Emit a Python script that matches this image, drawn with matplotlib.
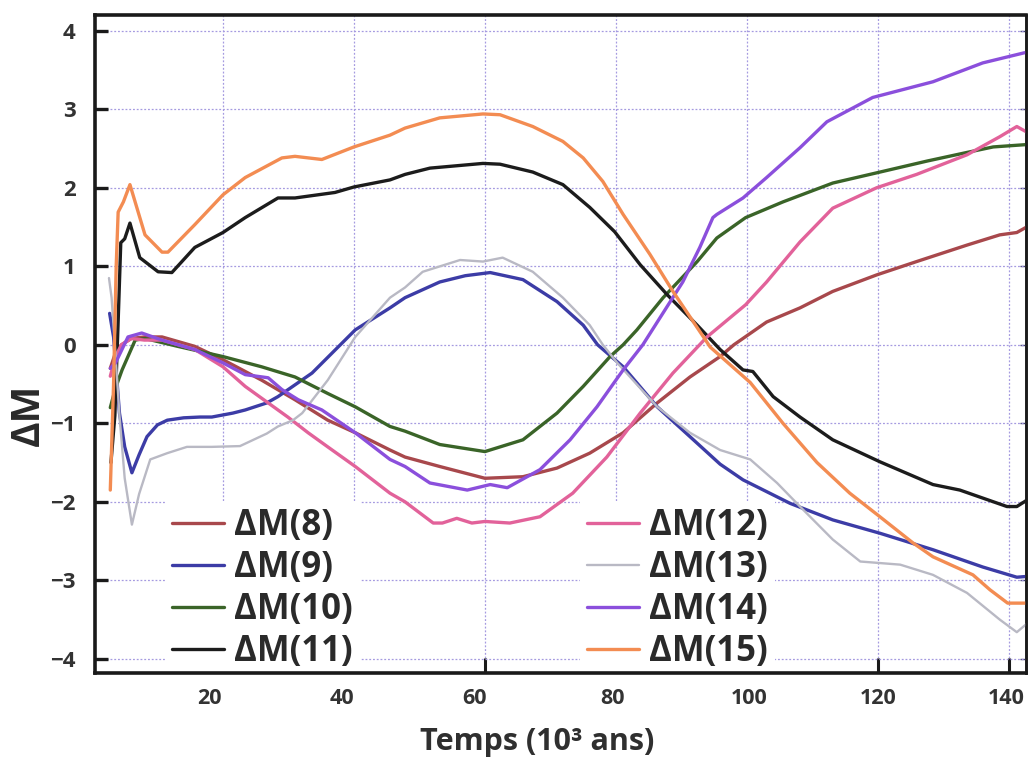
import matplotlib
matplotlib.use("Agg")
import matplotlib.pyplot as plt
import matplotlib.transforms as mtransforms

plt.rcParams['font.family'] = ['Open Sans', 'DejaVu Sans']

# ---- data (time in 10^3 years, delta M) ----
t_8 = [2.8, 3.6, 4.5, 6, 8, 10.7, 15.7, 20, 25.9, 31, 36, 40.2, 45.5, 47.8, 53.1, 60,
       65.8, 71, 76, 81.1, 86.3, 91.3, 95.9, 98, 103, 108.1, 113.1, 119.8, 125.9,
       133.6, 138.6, 141.2, 142.7]
dm_8 = [-0.3, -0.1, 0.0, 0.08, 0.1, 0.1, -0.02, -0.19, -0.45, -0.70, -0.96, -1.12, -1.34,
        -1.43, -1.55, -1.70, -1.68, -1.57, -1.38, -1.12, -0.74, -0.41, -0.15, 0.0, 0.29,
        0.47, 0.68, 0.89, 1.06, 1.27, 1.40, 1.43, 1.50]

t_9 = [2.7, 3.3, 4.2, 5.0, 6.1, 7.2, 8.4, 10, 11.5, 14, 16.5, 18.3, 21.5, 23.4, 26.7,
       28.4, 33.6, 36, 40.2, 45.5, 47.8, 53.1, 57, 60.8, 65.8, 71, 75, 77.2, 81.1, 86.3,
       91.3, 95.9, 99.4, 106.6, 113.1, 120.3, 128.4, 136, 141.2, 142.7]
dm_9 = [0.4, 0.1, -0.87, -1.3, -1.63, -1.4, -1.17, -1.02, -0.96, -0.93, -0.92, -0.92,
        -0.87, -0.83, -0.74, -0.66, -0.36, -0.16, 0.19, 0.47, 0.60, 0.80, 0.88, 0.92, 0.83,
        0.55, 0.25, 0.0, -0.28, -0.79, -1.17, -1.52, -1.72, -2.02, -2.23, -2.40, -2.61,
        -2.83, -2.96, -2.95]

t_10 = [2.8, 3.6, 4.6, 6.6, 8.1, 13.1, 20, 25.9, 31, 36, 40.2, 45.5, 47.8, 53.1, 60,
        65.8, 71, 75, 79.1, 81.1, 83.2, 87.2, 92.4, 95.4, 99.8, 105.5, 113.1, 119.8,
        127.5, 133.6, 137.6, 142.7]
dm_10 = [-0.8, -0.55, -0.32, 0.06, 0.08, -0.02, -0.15, -0.28, -0.41, -0.62, -0.79, -1.04,
         -1.10, -1.27, -1.36, -1.21, -0.87, -0.53, -0.15, 0.0, 0.19, 0.6, 1.06, 1.36, 1.62,
         1.82, 2.06, 2.19, 2.34, 2.45, 2.52, 2.55]

t_11 = [2.9, 3.5, 4.0, 4.4, 5.0, 5.8, 7.3, 10.1, 12.2, 15.7, 20, 23.4, 28.4, 31, 37.1,
        40, 45.5, 47.8, 51.6, 59.7, 62.3, 67.3, 71.9, 76, 79.8, 83.7, 87.8, 92.4, 95.9,
        99.4, 100.9, 104, 108.1, 113.1, 120.3, 128.4, 132.5, 139.7, 141.2, 142.9]
dm_11 = [-1.5, -0.9, 0.3, 1.3, 1.35, 1.55, 1.11, 0.93, 0.92, 1.24, 1.43, 1.62, 1.87, 1.87,
         1.94, 2.01, 2.10, 2.17, 2.25, 2.31, 2.30, 2.20, 2.04, 1.75, 1.44, 1.02, 0.64, 0.25,
         -0.06, -0.32, -0.34, -0.66, -0.92, -1.21, -1.49, -1.78, -1.85, -2.06, -2.06, -1.97]

t_12 = [2.8, 3.6, 4.5, 6, 8, 10.7, 15.7, 20, 23.4, 26.9, 29.9, 33, 36, 40.2, 45.5, 47.8,
        52.1, 53.5, 55.7, 58, 60, 63.8, 68.4, 73.4, 78.6, 83.7, 88.7, 93.9, 99.8, 103,
        108.1, 113.1, 119.8, 125.9, 133.6, 138.6, 141.2, 142.7]
dm_12 = [-0.4, -0.15, 0.0, 0.08, 0.06, 0.06, -0.06, -0.28, -0.53, -0.74, -0.92, -1.12,
         -1.30, -1.55, -1.89, -2.0, -2.27, -2.27, -2.21, -2.27, -2.25, -2.27, -2.19, -1.89,
         -1.43, -0.87, -0.36, 0.10, 0.51, 0.80, 1.31, 1.74, 2.0, 2.17, 2.42, 2.65, 2.78, 2.71]

t_13 = [2.6, 3.0, 3.5, 4.2, 5.0, 6.1, 7.2, 8.9, 11.5, 14.5, 18.3, 22.6, 26.7, 28.4, 30.7,
        32.1, 36, 40.2, 45.5, 47.8, 50.5, 56.2, 59.7, 62.7, 67.3, 71.9, 76, 78, 80.2, 86.3,
        91.3, 95.9, 100.5, 104.6, 108.1, 113.1, 117.3, 123.4, 128.4, 133.6, 138.6, 141.2,
        142.9]
dm_13 = [0.85, 0.6, 0.0, -0.9, -1.7, -2.29, -1.9, -1.46, -1.38, -1.30, -1.30, -1.29, -1.13,
         -1.04, -0.96, -0.87, -0.45, 0.10, 0.60, 0.73, 0.93, 1.08, 1.06, 1.11, 0.93, 0.60,
         0.25, 0.0, -0.23, -0.79, -1.12, -1.34, -1.46, -1.76, -2.06, -2.48, -2.76, -2.80,
         -2.93, -3.16, -3.50, -3.66, -3.54]

t_14 = [2.8, 3.6, 5.5, 7.6, 10.7, 15.7, 20, 23.4, 26.9, 29, 31.5, 35.1, 40.2, 45.5, 47.8,
        51.6, 57.3, 60.8, 63.4, 68.4, 73, 77.1, 81.1, 84.1, 90.2, 92.8, 94.8, 95.4, 99.4,
        103, 108.1, 112.2, 119.2, 128.4, 136, 142.4]
dm_14 = [-0.3, -0.23, 0.10, 0.15, 0.06, -0.06, -0.23, -0.38, -0.42, -0.57, -0.70, -0.83,
         -1.12, -1.46, -1.55, -1.76, -1.85, -1.78, -1.82, -1.59, -1.21, -0.79, -0.32, 0.0,
         0.80, 1.24, 1.62, 1.66, 1.87, 2.13, 2.51, 2.84, 3.15, 3.35, 3.59, 3.72]

t_15 = [2.8, 3.3, 3.7, 4.0, 4.8, 5.8, 8.1, 10.7, 11.6, 15.7, 20, 23.4, 29, 31, 35.1, 40,
        45.5, 47.8, 53.1, 59.7, 62.3, 67.3, 71.9, 75, 78, 81.1, 85.2, 88.7, 92.8, 94.4,
        100.5, 105.5, 110.7, 115.7, 120.3, 125.3, 128.4, 134.5, 137.1, 139.8, 142.9]
dm_15 = [-1.85, -0.5, 1.0, 1.69, 1.82, 2.04, 1.40, 1.18, 1.18, 1.53, 1.91, 2.13, 2.38, 2.40,
         2.36, 2.52, 2.67, 2.76, 2.89, 2.94, 2.93, 2.78, 2.59, 2.38, 2.08, 1.66, 1.15, 0.68,
         0.17, -0.03, -0.48, -1.0, -1.50, -1.89, -2.19, -2.52, -2.70, -2.93, -3.12, -3.29,
         -3.29]

labels = ['ΔM(8)', 'ΔM(9)', 'ΔM(10)', 'ΔM(11)', 'ΔM(12)', 'ΔM(13)', 'ΔM(14)', 'ΔM(15)']
x_ticks = [20, 40, 60, 80, 100, 120, 140]
y_ticks = [-4, -3, -2, -1, 0, 1, 2, 3, 4]

series = [(t_8, dm_8), (t_9, dm_9), (t_10, dm_10), (t_11, dm_11),
          (t_12, dm_12), (t_13, dm_13), (t_14, dm_14), (t_15, dm_15)]
colors = ['#a8484c', '#3c3ca6', '#3a6428', '#1c1c1c',
          '#e2629a', '#b9b9c4', '#8b4fdc', '#f38c52']
widths = [2.4, 2.4, 2.4, 2.4, 2.4, 1.7, 2.4, 2.4]

fig = plt.figure(figsize=(10.30, 7.66), dpi=100)
ax = fig.add_axes([0.0922, 0.1214, 0.9039, 0.8590])

lines = []
for (t, dm), c, lw, lab in zip(series, colors, widths, labels):
    ln, = ax.plot(t, dm, color=c, lw=lw, label=lab, solid_capstyle='round', zorder=2)
    lines.append(ln)

ax.set_xlim(0.46, 142.6)
ax.set_ylim(-4.18, 4.2)
ax.set_xticks(x_ticks)
ax.set_yticks(y_ticks)
ax.grid(True, color='#a59ae0', linestyle=(0, (1.5, 1.5)), linewidth=0.9)

ax.tick_params(axis='y', direction='in', length=9.5, width=2.4, color='#1a1a1a',
               pad=14, labelsize=16, labelcolor='#333333')
ax.tick_params(axis='x', direction='in', length=10.5, width=2.2, color='#1a1a1a',
               pad=11, labelsize=15.5, labelcolor='#333333')
for lab in ax.get_xticklabels() + ax.get_yticklabels():
    lab.set_fontweight('bold')

# the printed x labels sit a little left of their grid lines
label_shift_px = [-14, -12, -10, -3, 2, 0, -3]
for lab, dx in zip(ax.get_xticklabels(), label_shift_px):
    lab.set_transform(lab.get_transform() +
                      mtransforms.ScaledTranslation(dx / 100, 0, fig.dpi_scale_trans))

sec = ax.secondary_yaxis('right')
sec.set_yticks(y_ticks)
sec.tick_params(direction='in', length=4, width=1, color='#404070', labelright=False)
sec.spines['right'].set_linewidth(1.8)

for side, lw in [('left', 2.6), ('bottom', 2.6), ('top', 2.6), ('right', 1.8)]:
    ax.spines[side].set_linewidth(lw)
    ax.spines[side].set_color('#1a1a1a')

leg_kw = dict(loc='lower left', borderaxespad=0, prop={'size': 25, 'weight': 'bold'},
              handlelength=1.5, handletextpad=0.3, labelspacing=0.17, borderpad=0.2,
              frameon=True, fancybox=False, framealpha=1, edgecolor='none',
              facecolor='white', labelcolor='#2a2a2a')
leg1 = ax.legend(handles=lines[:4], bbox_to_anchor=(0.0752, -0.006), **leg_kw)
leg1.set_zorder(2.4)
ax.add_artist(leg1)
leg2 = ax.legend(handles=lines[4:], bbox_to_anchor=(0.521, -0.006), **leg_kw)
leg2.set_zorder(2.4)

fig.text(28 / 1030, 1 - 415 / 766, 'ΔM', rotation=90, ha='center', va='center',
         fontsize=28, fontweight='bold', color='#2a2a2a')
fig.text(537 / 1030, 1 - 742 / 766, 'Temps (10³ ans)', ha='center', va='center',
         fontsize=22, fontweight='bold', color='#2f2f2f')

fig.savefig('out.png', dpi=100)
